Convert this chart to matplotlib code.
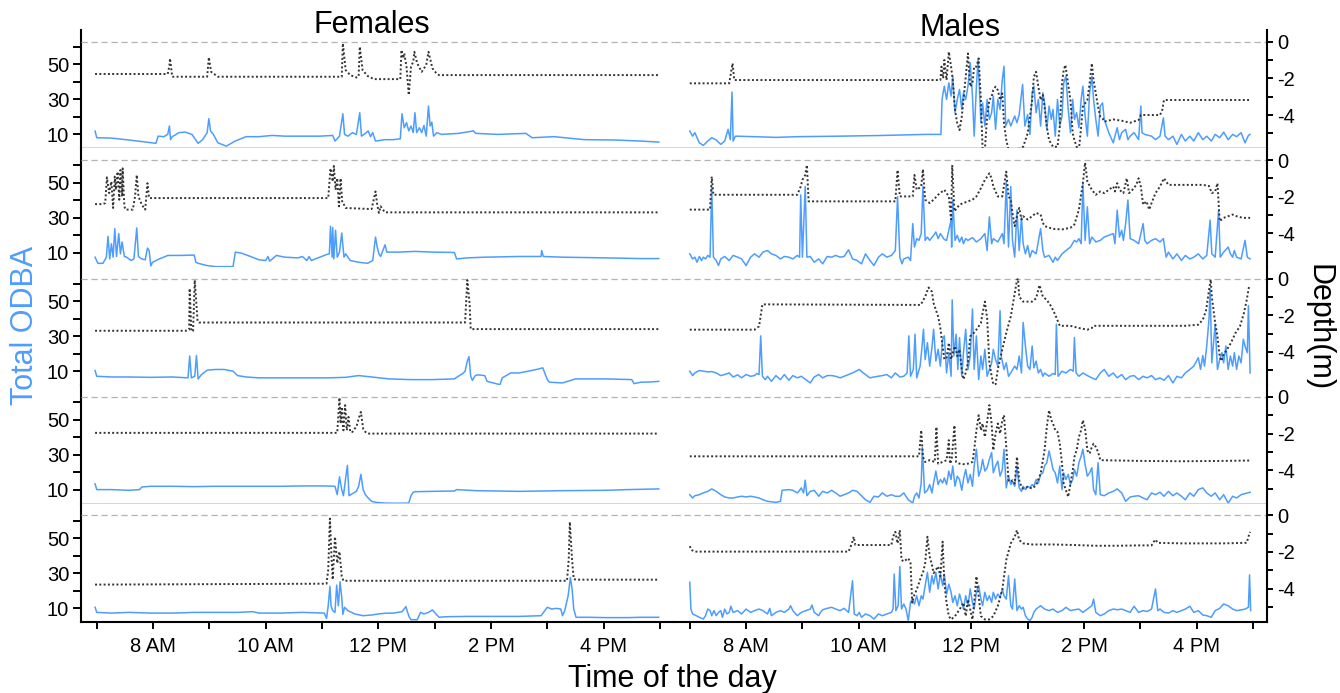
import matplotlib.pyplot as plt
from matplotlib.ticker import FixedLocator

plt.rcParams['font.family'] = ['Liberation Sans', 'DejaVu Sans']
plt.rcParams['axes.unicode_minus'] = False

BLUE = '#4d9dff'

# (time of day in hours, total ODBA) and (time, depth in m)
f1_odba = [(6.97, 11.9), (7.00, 8.1), (7.26, 7.9), (7.57, 6.8), (7.88, 5.6), (8.05, 4.9), (8.09, 9.0), (8.19, 8.7),
           (8.26, 10.0), (8.29, 14.8), (8.31, 7.0), (8.34, 8.7), (8.46, 11.0), (8.57, 11.3), (8.69, 10.0), (8.80, 4.9),
           (8.88, 7.0), (8.96, 11.0), (8.99, 19.0), (9.02, 12.0), (9.07, 10.0), (9.15, 5.2), (9.30, 3.3), (9.46, 6.2),
           (9.65, 8.7), (9.88, 8.7), (10.11, 9.4), (10.34, 9.0), (10.65, 9.0), (10.96, 9.0), (11.19, 9.4), (11.23, 6.2),
           (11.31, 9.0), (11.37, 21.8), (11.40, 10.0), (11.46, 9.0), (11.54, 11.0), (11.61, 10.0), (11.67, 22.4),
           (11.70, 9.0), (11.77, 10.6), (11.82, 12.0), (11.86, 8.7), (11.90, 11.0), (11.95, 6.2), (12.12, 7.0),
           (12.27, 7.0), (12.39, 7.5), (12.42, 21.8), (12.46, 13.8), (12.50, 16.7), (12.54, 12.0), (12.58, 14.8),
           (12.62, 11.0), (12.65, 22.4), (12.68, 11.0), (12.73, 13.8), (12.77, 11.0), (12.81, 15.1), (12.85, 9.0),
           (12.89, 26.2), (12.92, 14.8), (12.95, 17.0), (12.98, 9.0), (13.04, 11.0), (13.12, 10.0), (13.43, 10.6),
           (13.69, 12.0), (13.73, 10.6), (14.12, 10.0), (14.62, 10.6), (14.73, 8.1), (15.12, 8.7), (15.66, 7.0),
           (16.20, 6.8), (16.66, 6.2), (16.98, 5.6)]
f1_depth = [(6.97, -1.76), (8.26, -1.76), (8.29, -1.3), (8.30, -0.91), (8.34, -1.91), (8.96, -1.91), (8.99, -0.85),
            (9.03, -1.64), (9.15, -1.91), (11.35, -1.91), (11.37, -0.09), (11.42, -1.55), (11.50, -1.82),
            (11.61, -1.95), (11.65, -1.9), (11.67, -0.27), (11.72, -1.55), (11.81, -1.87), (11.92, -2.04),
            (12.39, -2.04), (12.41, -0.45), (12.44, -0.91), (12.46, -0.64), (12.50, -1.36), (12.54, -2.91),
            (12.58, -1.36), (12.62, -1.09), (12.64, -0.55), (12.69, -1.18), (12.77, -1.64), (12.85, -1.27),
            (12.89, -0.55), (12.96, -1.45), (13.04, -1.76), (13.08, -1.82), (16.98, -1.82)]

m1_odba = [(7.00, 11.9), (7.05, 9.0), (7.09, 11.0), (7.17, 5.2), (7.24, 3.7), (7.32, 6.2), (7.39, 8.1), (7.47, 6.8),
           (7.55, 4.3), (7.62, 6.2), (7.68, 12.9), (7.72, 7.0), (7.75, 34.2), (7.77, 6.2), (7.81, 9.0), (8.15, 8.7),
           (8.53, 8.3), (8.91, 8.7), (9.67, 9.0), (10.42, 9.4), (11.18, 10.0), (11.46, 10.0), (11.48, 30.0),
           (11.52, 37.6), (11.56, 30.0), (11.60, 39.5), (11.64, 31.9), (11.67, 43.3), (11.71, 22.4), (11.75, 30.0),
           (11.79, 35.7), (11.83, 24.3), (11.86, 33.8), (11.90, 30.0), (11.94, 37.6), (11.98, 51.0), (12.02, 31.9),
           (12.05, 9.0), (12.09, 37.6), (12.12, 52.9), (12.17, 16.7), (12.20, 28.0), (12.24, 14.8), (12.28, 30.0),
           (12.32, 18.6), (12.36, 22.4), (12.39, 31.9), (12.43, 12.9), (12.47, 30.0), (12.51, 24.3), (12.55, 41.4),
           (12.58, 49.0), (12.61, 14.8), (12.66, 18.6), (12.70, 14.8), (12.77, 20.5), (12.81, 16.7), (12.85, 21.4),
           (12.91, 38.6), (12.95, 14.8), (13.00, 21.4), (13.04, 10.0), (13.08, 33.8), (13.11, 37.6), (13.15, 22.4),
           (13.19, 30.0), (13.23, 14.8), (13.27, 33.8), (13.30, 28.0), (13.34, 12.9), (13.38, 26.2), (13.42, 18.6),
           (13.45, 24.3), (13.49, 9.0), (13.53, 30.0), (13.57, 14.8), (13.61, 20.5), (13.64, 39.5), (13.68, 43.3),
           (13.72, 24.3), (13.76, 11.0), (13.80, 30.0), (13.83, 18.6), (13.87, 22.4), (13.91, 13.8), (13.95, 30.0),
           (13.98, 37.6), (14.02, 20.5), (14.06, 9.0), (14.10, 33.8), (14.14, 43.3), (14.17, 30.0), (14.21, 18.6),
           (14.25, 9.0), (14.29, 26.2), (14.33, 28.0), (14.36, 18.6), (14.40, 14.8), (14.44, 11.0), (14.52, 5.2),
           (14.55, 9.0), (14.59, 13.8), (14.63, 7.0), (14.67, 11.0), (14.74, 12.9), (14.78, 7.0), (14.82, 9.0),
           (14.89, 11.0), (14.97, 7.0), (15.01, 26.2), (15.03, 11.0), (15.08, 10.0), (15.20, 9.0), (15.27, 7.0),
           (15.35, 9.0), (15.41, 19.5), (15.44, 9.0), (15.50, 7.0), (15.58, 9.0), (15.65, 4.3), (15.73, 10.0),
           (15.80, 6.2), (15.88, 9.0), (15.95, 6.2), (16.03, 11.0), (16.11, 7.0), (16.18, 9.0), (16.26, 6.2),
           (16.33, 10.0), (16.41, 8.1), (16.48, 11.3), (16.56, 7.0), (16.64, 10.0), (16.71, 8.7), (16.79, 11.0),
           (16.86, 5.2), (16.92, 9.4), (16.95, 10.0)]
m1_depth = [(7.00, -2.27), (7.70, -2.27), (7.73, -1.73), (7.76, -1.18), (7.79, -2.09), (11.45, -2.09), (11.47, -1.36),
            (11.50, -2.0), (11.52, -1.0), (11.56, -2.09), (11.60, -0.55), (11.64, -1.36), (11.67, -2.09),
            (11.71, -3.73), (11.75, -4.45), (11.79, -4.82), (11.83, -4.09), (11.86, -3.18), (11.90, -1.91),
            (11.94, -0.64), (11.98, -2.45), (12.02, -2.27), (12.05, -1.36), (12.09, -1.36), (12.13, -0.91),
            (12.17, -3.18), (12.20, -5.9), (12.24, -5.9), (12.28, -4.09), (12.32, -3.18), (12.36, -3.0),
            (12.39, -2.64), (12.43, -2.45), (12.47, -2.64), (12.51, -3.18), (12.55, -2.82), (12.58, -4.45),
            (12.62, -5.36), (12.66, -5.9), (12.81, -5.9), (12.92, -5.73), (13.00, -5.0), (13.04, -4.09),
            (13.08, -3.18), (13.11, -1.91), (13.15, -1.64), (13.19, -2.45), (13.23, -3.18), (13.27, -2.91),
            (13.30, -3.55), (13.34, -4.64), (13.38, -5.36), (13.45, -5.73), (13.53, -5.73), (13.57, -4.64),
            (13.61, -2.27), (13.64, -1.55), (13.67, -1.27), (13.70, -1.91), (13.76, -3.18), (13.80, -5.0),
            (13.83, -5.36), (13.87, -5.73), (13.91, -5.9), (13.95, -4.64), (13.98, -3.55), (14.02, -3.36),
            (14.06, -3.18), (14.10, -2.27), (14.14, -1.18), (14.17, -2.09), (14.21, -2.82), (14.25, -3.55),
            (14.29, -4.09), (14.33, -4.18), (14.36, -4.36), (14.52, -4.24), (14.67, -4.31), (14.82, -4.42),
            (14.97, -4.27), (15.01, -4.0), (15.35, -4.0), (15.39, -3.73), (15.42, -3.18), (16.95, -3.18)]

f2_odba = [(6.97, 7.5), (7.02, 4.0), (7.11, 4.0), (7.17, 7.5), (7.20, 19.4), (7.23, 6.5), (7.26, 15.2), (7.29, 7.5),
           (7.32, 23.8), (7.35, 7.9), (7.39, 21.0), (7.42, 9.4), (7.45, 16.2), (7.49, 7.9), (7.53, 7.5), (7.61, 5.6),
           (7.66, 6.5), (7.71, 24.2), (7.74, 7.9), (7.80, 6.5), (7.86, 6.0), (7.90, 12.7), (7.93, 11.3), (7.96, 2.5),
           (7.99, 4.6), (8.11, 6.5), (8.22, 7.9), (8.26, 8.5), (8.49, 8.5), (8.73, 8.7), (8.76, 4.6), (8.80, 4.0),
           (8.96, 2.7), (9.11, 2.1), (9.42, 2.1), (9.46, 10.4), (9.57, 9.8), (9.73, 7.9), (9.88, 6.0), (10.00, 5.6),
           (10.04, 7.9), (10.07, 5.2), (10.19, 8.5), (10.34, 7.5), (10.57, 7.1), (10.65, 7.9), (10.73, 5.6),
           (10.77, 7.9), (10.81, 5.6), (10.96, 7.5), (11.08, 9.0), (11.13, 9.4), (11.15, 25.2), (11.18, 7.5),
           (11.19, 24.4), (11.21, 6.5), (11.24, 22.9), (11.27, 7.5), (11.31, 10.4), (11.35, 21.3), (11.39, 7.5),
           (11.42, 9.4), (11.50, 5.6), (11.65, 4.6), (11.81, 4.0), (11.90, 5.6), (11.95, 19.0), (11.98, 13.3),
           (12.01, 9.4), (12.04, 7.9), (12.08, 11.3), (12.12, 14.6), (12.15, 10.4), (12.35, 10.4), (12.65, 10.8),
           (12.96, 10.4), (13.35, 10.2), (13.39, 6.5), (13.58, 7.1), (13.89, 7.5), (14.50, 7.9), (14.89, 7.9),
           (14.90, 11.3), (14.93, 7.9), (15.27, 7.5), (16.04, 7.1), (16.66, 6.7), (16.98, 6.7)]
f2_depth = [(6.97, -2.40), (7.11, -2.40), (7.15, -2.34), (7.18, -0.94), (7.22, -1.80), (7.26, -1.17), (7.29, -2.61),
            (7.32, -0.90), (7.34, -1.62), (7.37, -0.63), (7.40, -2.16), (7.42, -0.54), (7.45, -1.98), (7.46, -0.45),
            (7.49, -2.52), (7.51, -2.70), (7.64, -2.70), (7.68, -1.98), (7.71, -0.81), (7.74, -1.98), (7.80, -2.43),
            (7.86, -2.70), (7.90, -1.26), (7.93, -2.07), (11.11, -2.07), (11.15, -0.45), (11.19, -1.17),
            (11.21, -0.32), (11.24, -1.62), (11.27, -0.99), (11.30, -2.52), (11.33, -0.99), (11.36, -2.34),
            (11.39, -2.43), (11.42, -2.61), (11.88, -2.67), (11.95, -1.71), (11.98, -2.43), (12.01, -2.88),
            (12.04, -2.52), (12.08, -2.70), (12.12, -2.85), (16.98, -2.85)]

m2_odba = [(7.00, 9.4), (7.05, 6.5), (7.09, 7.5), (7.13, 4.6), (7.17, 7.9), (7.21, 5.6), (7.24, 7.5), (7.28, 6.5),
           (7.32, 8.5), (7.36, 7.5), (7.39, 47.5), (7.42, 7.5), (7.47, 5.6), (7.51, 2.7), (7.55, 6.5), (7.62, 7.9),
           (7.70, 5.6), (7.77, 8.5), (7.85, 7.5), (7.92, 6.5), (8.00, 2.7), (8.08, 7.5), (8.15, 9.4), (8.23, 7.5),
           (8.30, 10.4), (8.38, 11.3), (8.45, 9.4), (8.53, 8.5), (8.61, 6.5), (8.68, 7.9), (8.76, 7.5), (8.83, 6.5),
           (8.91, 8.5), (8.95, 7.5), (8.97, 43.1), (9.00, 7.5), (9.05, 47.9), (9.08, 7.5), (9.14, 7.9), (9.21, 4.6),
           (9.29, 6.5), (9.36, 3.7), (9.44, 7.9), (9.52, 7.5), (9.59, 8.5), (9.67, 7.5), (9.74, 7.9), (9.82, 11.7),
           (9.89, 6.5), (9.97, 5.6), (10.05, 3.7), (10.12, 9.4), (10.20, 5.6), (10.27, 2.7), (10.35, 7.5),
           (10.42, 9.4), (10.50, 7.5), (10.58, 8.5), (10.65, 11.3), (10.69, 42.1), (10.73, 7.5), (10.77, 3.7),
           (10.80, 6.5), (10.88, 7.5), (10.92, 5.6), (10.96, 26.7), (10.99, 13.3), (11.03, 18.1), (11.07, 17.1),
           (11.11, 21.0), (11.14, 47.9), (11.18, 17.1), (11.22, 19.0), (11.26, 17.1), (11.33, 20.0), (11.37, 21.9),
           (11.41, 18.1), (11.45, 21.0), (11.49, 19.0), (11.52, 17.6), (11.56, 17.1), (11.60, 22.9), (11.64, 28.7),
           (11.65, 13.3), (11.67, 40.2), (11.71, 17.1), (11.75, 20.0), (11.79, 16.2), (11.83, 19.0), (11.86, 15.2),
           (11.90, 18.1), (11.94, 17.1), (12.02, 18.7), (12.09, 16.2), (12.17, 18.1), (12.24, 21.0), (12.28, 11.3),
           (12.32, 30.6), (12.36, 15.2), (12.39, 18.1), (12.47, 16.2), (12.55, 21.0), (12.58, 15.2), (12.62, 50.8),
           (12.66, 13.3), (12.70, 47.9), (12.73, 17.1), (12.77, 7.5), (12.81, 34.4), (12.85, 11.3), (12.89, 30.6),
           (12.92, 15.2), (12.96, 9.4), (13.00, 14.2), (13.04, 7.5), (13.08, 11.3), (13.15, 9.4), (13.23, 23.8),
           (13.27, 11.3), (13.30, 7.5), (13.38, 8.5), (13.45, 4.6), (13.49, 7.5), (13.53, 5.6), (13.61, 9.4),
           (13.68, 11.3), (13.76, 13.3), (13.83, 17.1), (13.87, 16.2), (13.91, 18.1), (13.95, 15.2), (13.98, 49.8),
           (14.02, 17.1), (14.06, 36.3), (14.10, 15.2), (14.14, 19.0), (14.21, 16.2), (14.29, 17.1), (14.36, 19.0),
           (14.44, 20.0), (14.52, 21.0), (14.55, 15.2), (14.59, 34.4), (14.63, 19.0), (14.67, 22.9), (14.70, 17.1),
           (14.74, 26.7), (14.78, 40.2), (14.82, 18.1), (14.89, 17.1), (14.97, 15.2), (15.05, 26.7), (15.08, 17.1),
           (15.12, 15.2), (15.20, 17.1), (15.27, 18.1), (15.35, 16.2), (15.41, 18.1), (15.44, 11.3), (15.46, 7.5),
           (15.50, 10.4), (15.58, 6.5), (15.65, 9.4), (15.73, 5.6), (15.80, 8.5), (15.88, 6.5), (15.95, 7.5),
           (16.03, 9.4), (16.11, 6.5), (16.18, 8.5), (16.24, 28.7), (16.27, 9.4), (16.33, 7.5), (16.39, 34.4),
           (16.42, 7.5), (16.48, 10.4), (16.56, 13.3), (16.60, 9.4), (16.64, 7.5), (16.67, 11.3), (16.71, 7.5),
           (16.79, 6.5), (16.86, 17.1), (16.90, 7.5), (16.95, 6.5)]
m2_depth = [(7.00, -2.70), (7.36, -2.70), (7.39, -0.90), (7.42, -1.89), (8.91, -1.89), (8.97, -1.44), (9.00, -1.08),
            (9.05, -0.81), (9.08, -0.27), (9.11, -2.25), (10.65, -2.25), (10.69, -0.54), (10.73, -1.98),
            (10.96, -1.98), (10.99, -0.81), (11.03, -1.62), (11.11, -1.44), (11.14, -0.50), (11.18, -2.16),
            (11.26, -2.34), (11.33, -2.16), (11.41, -1.89), (11.52, -1.62), (11.60, -1.98), (11.64, -3.24),
            (11.66, -0.27), (11.70, -2.79), (11.79, -2.43), (11.86, -2.34), (11.94, -2.25), (12.02, -2.16),
            (12.09, -1.98), (12.17, -1.53), (12.24, -1.08), (12.32, -0.72), (12.36, -0.99), (12.39, -1.44),
            (12.47, -1.98), (12.55, -1.98), (12.62, -0.63), (12.66, -1.98), (12.70, -2.16), (12.73, -2.88),
            (12.77, -3.60), (12.81, -3.06), (12.85, -2.61), (12.89, -3.24), (12.92, -3.06), (13.00, -3.24),
            (13.08, -3.06), (13.15, -2.88), (13.23, -2.97), (13.27, -3.42), (13.30, -3.60), (13.45, -3.75),
            (13.61, -3.78), (13.76, -3.69), (13.83, -3.51), (13.91, -2.70), (13.98, -1.26), (14.02, -0.14),
            (14.06, -1.17), (14.14, -1.62), (14.21, -1.89), (14.29, -1.71), (14.36, -1.80), (14.44, -1.62),
            (14.52, -1.44), (14.55, -1.71), (14.59, -1.26), (14.63, -1.62), (14.70, -1.80), (14.76, -0.99),
            (14.80, -1.80), (14.86, -1.62), (14.93, -1.35), (14.97, -0.99), (15.01, -1.44), (15.05, -2.43),
            (15.11, -2.25), (15.16, -2.70), (15.20, -2.34), (15.27, -1.80), (15.35, -1.44), (15.42, -0.99),
            (15.50, -1.35), (15.73, -1.35), (16.11, -1.35), (16.22, -1.41), (16.27, -1.80), (16.33, -1.71),
            (16.37, -1.26), (16.41, -3.33), (16.48, -3.15), (16.56, -3.06), (16.64, -2.97), (16.71, -3.06),
            (16.82, -3.15), (16.95, -3.15)]

f3_odba = [(6.97, 10.4), (7.00, 7.1), (7.26, 6.7), (7.57, 6.7), (7.96, 6.5), (8.34, 6.7), (8.62, 6.2), (8.65, 18.7),
           (8.68, 6.2), (8.74, 7.1), (8.77, 19.0), (8.80, 5.6), (8.86, 8.1), (8.96, 10.6), (9.11, 11.0), (9.26, 11.0),
           (9.42, 10.0), (9.50, 7.5), (9.65, 6.7), (9.88, 6.2), (10.27, 6.2), (10.65, 6.2), (11.11, 6.2), (11.42, 6.5),
           (11.65, 7.5), (11.88, 6.7), (12.19, 5.6), (12.58, 5.2), (12.96, 5.2), (13.35, 5.6), (13.44, 7.5),
           (13.50, 8.7), (13.54, 10.0), (13.58, 15.8), (13.61, 18.3), (13.64, 7.1), (13.67, 4.8), (13.72, 7.5),
           (13.77, 7.9), (13.89, 7.5), (13.93, 4.2), (14.04, 3.3), (14.16, 2.3), (14.20, 6.2), (14.27, 7.5),
           (14.35, 9.0), (14.50, 9.0), (14.66, 10.0), (14.81, 11.0), (14.92, 11.9), (15.00, 5.2), (15.04, 3.7),
           (15.27, 3.3), (15.50, 5.6), (16.04, 5.6), (16.50, 5.2), (16.54, 2.9), (16.66, 3.7), (16.81, 3.8),
           (16.98, 4.2)]
f3_depth = [(6.97, -2.85), (8.58, -2.85), (8.64, -2.79), (8.65, -0.54), (8.68, -2.88), (8.71, -2.85), (8.74, -0.09),
            (8.79, -2.34), (8.82, -2.40), (13.54, -2.40), (13.58, -0.09), (13.62, -1.35), (13.64, -2.76),
            (16.98, -2.76)]

m3_odba = [(7.00, 10.0), (7.05, 7.5), (7.09, 9.0), (7.17, 10.4), (7.24, 10.0), (7.32, 9.6), (7.39, 9.8), (7.47, 9.0),
           (7.55, 7.5), (7.62, 8.1), (7.70, 9.0), (7.77, 6.7), (7.85, 7.9), (7.92, 6.2), (8.00, 8.1), (8.08, 7.1),
           (8.15, 7.5), (8.19, 8.7), (8.23, 8.1), (8.26, 30.2), (8.29, 7.1), (8.34, 5.2), (8.38, 7.1), (8.45, 4.2),
           (8.53, 7.5), (8.61, 5.2), (8.68, 8.1), (8.76, 4.8), (8.83, 7.5), (8.91, 6.2), (8.98, 7.1), (9.06, 5.2),
           (9.14, 3.3), (9.21, 6.7), (9.29, 8.1), (9.36, 6.2), (9.44, 7.5), (9.52, 7.5), (9.59, 7.1), (9.67, 6.2),
           (9.74, 7.1), (9.82, 8.1), (9.89, 9.0), (10.01, 11.0), (10.08, 9.0), (10.20, 6.2), (10.27, 6.7),
           (10.35, 7.1), (10.42, 7.5), (10.50, 8.1), (10.58, 6.2), (10.65, 9.0), (10.73, 6.7), (10.80, 7.1),
           (10.86, 9.0), (10.89, 30.2), (10.92, 7.1), (10.97, 11.0), (11.00, 31.2), (11.03, 6.2), (11.09, 12.9),
           (11.12, 22.5), (11.15, 34.0), (11.18, 16.7), (11.22, 26.3), (11.26, 12.9), (11.30, 23.5), (11.33, 34.0),
           (11.37, 15.8), (11.41, 22.5), (11.45, 12.9), (11.49, 28.3), (11.52, 30.2), (11.56, 9.0), (11.60, 20.6),
           (11.64, 7.1), (11.66, 50.8), (11.69, 18.7), (11.73, 31.2), (11.76, 11.0), (11.79, 29.2), (11.83, 7.1),
           (11.86, 20.6), (11.90, 34.0), (11.94, 11.0), (11.98, 18.7), (12.02, 45.6), (12.05, 11.0), (12.09, 30.2),
           (12.13, 5.2), (12.17, 18.7), (12.20, 11.0), (12.24, 22.5), (12.28, 7.1), (12.32, 11.0), (12.36, 14.8),
           (12.39, 22.5), (12.43, 16.7), (12.47, 12.9), (12.51, 44.6), (12.53, 18.7), (12.58, 11.0), (12.62, 14.8),
           (12.66, 7.1), (12.70, 9.0), (12.77, 12.9), (12.81, 11.0), (12.85, 18.7), (12.89, 9.0), (12.92, 37.9),
           (12.96, 24.4), (13.00, 12.9), (13.04, 11.0), (13.08, 24.4), (13.11, 11.9), (13.15, 15.8), (13.19, 9.0),
           (13.23, 11.0), (13.27, 7.1), (13.30, 9.0), (13.38, 7.1), (13.45, 8.7), (13.49, 8.1), (13.51, 36.9),
           (13.54, 7.1), (13.61, 10.0), (13.68, 9.0), (13.76, 11.0), (13.81, 10.0), (13.83, 29.2), (13.86, 9.0),
           (13.91, 7.1), (13.98, 9.0), (14.06, 7.5), (14.14, 6.2), (14.21, 5.2), (14.29, 9.0), (14.36, 11.0),
           (14.44, 7.1), (14.52, 9.0), (14.59, 6.2), (14.67, 8.1), (14.74, 5.2), (14.82, 7.1), (14.89, 7.5),
           (14.97, 5.2), (15.05, 7.1), (15.12, 6.2), (15.20, 7.5), (15.27, 5.2), (15.35, 6.2), (15.42, 4.8),
           (15.50, 7.5), (15.58, 3.3), (15.65, 7.1), (15.73, 6.2), (15.80, 9.0), (15.88, 11.0), (15.95, 12.9),
           (16.03, 17.7), (16.07, 11.0), (16.11, 19.0), (16.14, 12.9), (16.18, 24.4), (16.22, 39.8), (16.24, 57.1),
           (16.27, 14.8), (16.33, 36.9), (16.37, 11.0), (16.41, 16.7), (16.45, 20.6), (16.48, 14.8), (16.52, 24.4),
           (16.56, 11.0), (16.60, 18.7), (16.64, 12.9), (16.67, 20.6), (16.71, 11.0), (16.75, 18.7), (16.79, 14.8),
           (16.83, 28.3), (16.86, 24.4), (16.90, 20.6), (16.92, 47.5), (16.95, 9.0)]
m3_depth = [(7.00, -2.79), (8.15, -2.79), (8.23, -2.61), (8.29, -1.41), (11.10, -1.44), (11.18, -0.99), (11.24, -0.49),
            (11.30, -0.72), (11.33, -1.35), (11.41, -2.07), (11.45, -2.70), (11.49, -3.69), (11.52, -4.41),
            (11.56, -4.32), (11.60, -3.51), (11.64, -4.41), (11.67, -4.05), (11.71, -3.69), (11.75, -4.23),
            (11.79, -3.87), (11.83, -4.95), (11.86, -5.50), (11.90, -5.14), (11.94, -4.59), (11.98, -3.15),
            (12.02, -3.06), (12.09, -2.79), (12.17, -2.43), (12.20, -1.89), (12.24, -1.26), (12.28, -2.16),
            (12.32, -4.59), (12.36, -5.32), (12.39, -5.77), (12.43, -5.77), (12.47, -4.95), (12.55, -3.87),
            (12.62, -2.97), (12.70, -2.07), (12.77, -0.81), (12.81, -0.09), (12.83, 0.0), (12.85, -0.99),
            (12.92, -1.26), (13.00, -1.26), (13.08, -1.26), (13.15, -1.08), (13.21, -0.36), (13.27, -0.99),
            (13.34, -1.17), (13.42, -1.53), (13.49, -1.98), (13.57, -2.58), (13.76, -2.58), (13.91, -2.70),
            (14.06, -2.79), (14.14, -2.70), (14.17, -2.58), (15.80, -2.58), (16.03, -2.52), (16.11, -2.25),
            (16.17, -1.71), (16.22, -0.63), (16.25, -0.05), (16.27, -0.99), (16.33, -2.43), (16.37, -3.15),
            (16.41, -4.23), (16.44, -4.50), (16.48, -4.14), (16.54, -3.87), (16.61, -3.51), (16.69, -2.97),
            (16.77, -2.61), (16.84, -1.89), (16.89, -1.17), (16.93, -0.45), (16.95, -0.36)]

f4_odba = [(6.97, 13.3), (7.00, 10.0), (7.26, 10.0), (7.57, 9.6), (7.76, 10.0), (7.80, 11.5), (7.96, 11.9),
           (8.34, 11.9), (8.73, 11.7), (9.11, 11.9), (9.50, 11.9), (9.88, 11.9), (10.27, 11.9), (10.65, 12.1),
           (11.04, 12.1), (11.23, 11.9), (11.27, 7.1), (11.31, 17.3), (11.35, 10.0), (11.38, 6.5), (11.42, 16.7),
           (11.45, 23.8), (11.48, 6.5), (11.54, 7.7), (11.61, 9.0), (11.65, 11.9), (11.69, 18.7), (11.73, 10.0),
           (11.77, 7.1), (11.82, 5.2), (11.88, 3.3), (11.96, 2.7), (12.12, 2.3), (12.35, 2.2), (12.54, 2.3),
           (12.58, 6.5), (12.62, 8.5), (12.65, 8.8), (12.96, 9.0), (13.35, 9.2), (13.39, 10.0), (13.73, 9.4),
           (14.50, 9.0), (15.27, 9.4), (16.04, 9.6), (16.43, 10.0), (16.98, 10.4)]
f4_depth = [(6.97, -1.96), (11.27, -1.96), (11.31, -0.04), (11.33, -1.45), (11.35, -0.55), (11.38, -1.82),
            (11.41, -0.45), (11.44, -1.82), (11.47, -1.09), (11.50, -1.91), (11.54, -1.91), (11.58, -1.73),
            (11.61, -1.64), (11.65, -1.18), (11.69, -0.82), (11.73, -1.73), (11.77, -1.91), (11.81, -2.0),
            (16.98, -2.0)]

m4_odba = [(7.00, 7.1), (7.05, 5.2), (7.09, 6.5), (7.17, 7.1), (7.24, 8.1), (7.32, 9.0), (7.39, 10.4), (7.47, 9.0),
           (7.55, 7.1), (7.62, 5.8), (7.70, 5.2), (7.77, 5.2), (7.85, 5.8), (7.92, 6.2), (8.00, 5.8), (8.08, 6.2),
           (8.15, 5.8), (8.23, 5.2), (8.30, 4.2), (8.38, 3.3), (8.53, 2.7), (8.61, 3.3), (8.64, 9.6), (8.76, 10.0),
           (8.83, 9.6), (8.91, 8.1), (8.95, 9.6), (8.98, 11.0), (9.02, 8.1), (9.05, 15.4), (9.08, 6.5), (9.14, 9.0),
           (9.21, 9.6), (9.29, 6.2), (9.36, 9.0), (9.44, 8.1), (9.52, 9.6), (9.59, 8.1), (9.67, 6.2), (9.74, 7.1),
           (9.82, 8.1), (9.89, 9.6), (9.97, 9.0), (10.05, 6.5), (10.12, 4.2), (10.20, 2.7), (10.27, 6.2),
           (10.35, 5.8), (10.42, 8.1), (10.50, 6.2), (10.58, 7.1), (10.65, 6.2), (10.73, 6.2), (10.80, 8.1),
           (10.88, 4.2), (10.96, 2.3), (10.99, 6.2), (11.03, 8.1), (11.07, 5.2), (11.11, 13.8), (11.13, 34.0),
           (11.17, 8.1), (11.22, 9.6), (11.26, 12.9), (11.30, 8.1), (11.33, 13.8), (11.37, 20.6), (11.41, 12.9),
           (11.45, 15.8), (11.49, 13.8), (11.52, 16.7), (11.56, 12.9), (11.60, 20.6), (11.64, 15.8), (11.67, 23.5),
           (11.71, 11.9), (11.75, 17.7), (11.79, 15.8), (11.83, 9.6), (11.86, 15.8), (11.90, 21.5), (11.94, 13.8),
           (11.98, 18.7), (12.02, 11.9), (12.05, 23.5), (12.09, 33.1), (12.13, 17.7), (12.17, 21.5), (12.20, 27.3),
           (12.24, 20.6), (12.28, 22.5), (12.32, 27.3), (12.36, 31.2), (12.39, 19.6), (12.43, 23.5), (12.47, 26.3),
           (12.51, 17.7), (12.55, 21.5), (12.58, 33.1), (12.62, 11.0), (12.66, 17.7), (12.70, 12.9), (12.73, 14.8),
           (12.77, 11.9), (12.81, 23.5), (12.85, 11.0), (12.89, 9.0), (12.92, 11.9), (12.96, 10.0), (13.00, 11.9),
           (13.04, 11.0), (13.08, 12.9), (13.11, 11.9), (13.15, 15.8), (13.19, 13.8), (13.23, 18.7), (13.27, 19.6),
           (13.30, 23.5), (13.34, 25.4), (13.38, 32.1), (13.42, 26.3), (13.45, 21.5), (13.49, 19.6), (13.53, 13.8),
           (13.57, 23.5), (13.61, 10.0), (13.64, 19.6), (13.68, 15.8), (13.72, 18.7), (13.76, 12.9), (13.80, 15.8),
           (13.83, 21.5), (13.87, 17.7), (13.91, 25.4), (13.95, 29.2), (13.98, 33.1), (14.02, 24.4), (14.06, 17.7),
           (14.10, 19.6), (14.14, 22.5), (14.17, 10.0), (14.21, 7.1), (14.25, 25.4), (14.29, 7.1), (14.36, 6.5),
           (14.44, 8.1), (14.52, 9.0), (14.59, 10.4), (14.67, 8.1), (14.74, 3.3), (14.82, 5.8), (14.89, 6.2),
           (14.97, 6.5), (15.05, 5.2), (15.12, 4.2), (15.20, 8.1), (15.27, 7.1), (15.35, 8.5), (15.42, 6.2),
           (15.50, 9.0), (15.58, 6.5), (15.65, 8.1), (15.73, 6.2), (15.80, 4.2), (15.88, 8.1), (15.95, 6.2),
           (16.03, 10.0), (16.11, 11.0), (16.18, 8.1), (16.26, 6.2), (16.33, 8.1), (16.41, 4.2), (16.48, 7.1),
           (16.56, 2.3), (16.64, 6.2), (16.71, 5.2), (16.79, 7.1), (16.86, 7.7), (16.95, 8.5)]
m4_depth = [(7.00, -3.24), (11.07, -3.24), (11.11, -1.82), (11.14, -3.27), (11.18, -3.55), (11.26, -3.45),
            (11.35, -3.55), (11.38, -1.64), (11.41, -3.64), (11.49, -3.55), (11.56, -3.45), (11.60, -2.36),
            (11.62, -3.64), (11.65, -3.45), (11.70, -1.55), (11.73, -3.55), (11.79, -3.64), (11.86, -3.67),
            (11.94, -3.64), (12.02, -3.55), (12.05, -2.91), (12.09, -1.82), (12.13, -1.00), (12.17, -1.82),
            (12.20, -1.45), (12.24, -2.18), (12.28, -1.36), (12.32, -0.45), (12.36, -1.45), (12.39, -2.91),
            (12.43, -2.00), (12.47, -1.45), (12.51, -2.00), (12.55, -1.27), (12.58, -1.00), (12.62, -2.73),
            (12.66, -4.55), (12.70, -4.64), (12.73, -4.55), (12.77, -4.73), (12.81, -3.27), (12.85, -4.55),
            (12.89, -4.91), (12.92, -5.00), (13.00, -4.91), (13.08, -5.00), (13.15, -4.82), (13.23, -4.18),
            (13.30, -2.91), (13.34, -1.64), (13.38, -0.73), (13.42, -1.27), (13.45, -1.45), (13.49, -1.82),
            (13.53, -1.91), (13.57, -2.55), (13.61, -3.64), (13.64, -4.73), (13.68, -5.09), (13.72, -5.45),
            (13.76, -4.73), (13.80, -4.00), (13.83, -3.27), (13.87, -2.91), (13.91, -2.18), (13.95, -1.82),
            (13.98, -1.27), (14.02, -1.73), (14.06, -2.91), (14.10, -3.09), (14.14, -2.73), (14.17, -2.55),
            (14.21, -2.73), (14.25, -3.00), (14.29, -3.45), (14.97, -3.49), (15.73, -3.51), (16.48, -3.49),
            (16.95, -3.47)]

f5_odba = [(6.97, 10.4), (7.00, 7.5), (7.26, 7.1), (7.57, 7.5), (7.96, 7.1), (8.34, 7.1), (8.73, 7.5), (9.11, 7.5),
           (9.50, 7.5), (9.77, 7.9), (9.88, 7.1), (10.27, 7.1), (10.65, 7.5), (11.04, 7.1), (11.08, 4.1), (11.11, 11.3),
           (11.14, 22.4), (11.16, 11.3), (11.19, 8.5), (11.23, 7.5), (11.26, 23.1), (11.29, 11.3), (11.32, 25.0),
           (11.35, 16.1), (11.37, 6.4), (11.40, 10.4), (11.46, 8.5), (11.58, 6.6), (11.73, 5.6), (11.88, 6.0),
           (12.00, 6.6), (12.12, 7.0), (12.27, 7.1), (12.42, 7.9), (12.49, 10.8), (12.52, 7.5), (12.55, 4.7),
           (12.58, 3.3), (12.69, 3.3), (12.75, 7.5), (12.81, 6.6), (12.89, 7.5), (12.96, 8.9), (13.04, 6.0),
           (13.08, 4.7), (13.19, 5.0), (13.58, 5.2), (14.12, 5.2), (14.50, 5.2), (14.89, 5.6), (15.00, 10.4),
           (15.08, 9.4), (15.16, 9.8), (15.24, 9.4), (15.27, 5.6), (15.31, 8.5), (15.37, 17.0), (15.41, 27.5),
           (15.44, 20.9), (15.47, 9.4), (15.51, 4.7), (15.74, 4.7), (16.04, 4.5), (16.43, 4.5), (16.66, 4.7),
           (16.98, 4.7)]
f5_depth = [(6.97, -3.78), (11.08, -3.73), (11.11, -2.97), (11.14, -0.18), (11.17, -2.43), (11.19, -3.51),
            (11.23, -1.17), (11.27, -2.61), (11.31, -1.98), (11.35, -3.33), (11.38, -3.57), (15.35, -3.57),
            (15.38, -2.43), (15.40, -0.36), (15.44, -2.43), (15.47, -3.48), (15.51, -3.51), (16.98, -3.51)]

m5_odba = [(7.00, 24.7), (7.02, 9.4), (7.05, 6.6), (7.09, 6.0), (7.17, 4.7), (7.24, 3.7), (7.28, 5.6), (7.32, 9.4),
           (7.36, 8.5), (7.39, 5.6), (7.43, 8.5), (7.47, 5.6), (7.51, 7.5), (7.55, 8.5), (7.58, 4.7), (7.62, 9.4),
           (7.66, 6.6), (7.70, 7.5), (7.73, 11.0), (7.77, 7.5), (7.85, 8.5), (7.92, 6.6), (8.00, 9.4), (8.08, 7.5),
           (8.15, 8.5), (8.23, 9.4), (8.30, 8.5), (8.38, 6.6), (8.42, 9.8), (8.45, 5.6), (8.53, 7.5), (8.61, 8.5),
           (8.68, 7.5), (8.76, 9.4), (8.79, 11.3), (8.83, 8.5), (8.91, 5.6), (8.98, 7.5), (9.06, 8.5), (9.14, 9.4),
           (9.17, 11.7), (9.21, 7.5), (9.29, 5.6), (9.32, 7.5), (9.36, 9.0), (9.44, 9.8), (9.52, 10.4), (9.59, 9.4),
           (9.67, 8.5), (9.74, 9.8), (9.82, 7.5), (9.89, 25.6), (9.92, 6.6), (9.97, 5.6), (10.01, 7.5), (10.05, 4.7),
           (10.12, 6.6), (10.20, 5.6), (10.27, 3.7), (10.35, 6.6), (10.42, 5.6), (10.50, 6.6), (10.58, 7.5),
           (10.61, 9.4), (10.63, 29.4), (10.66, 8.5), (10.70, 11.3), (10.73, 33.8), (10.76, 9.4), (10.80, 12.3),
           (10.84, 9.4), (10.88, 2.8), (10.92, 13.2), (10.95, 15.1), (10.99, 12.3), (11.03, 17.0), (11.07, 11.3),
           (11.11, 17.0), (11.14, 15.1), (11.18, 22.8), (11.22, 30.4), (11.26, 19.0), (11.30, 28.5), (11.33, 23.7),
           (11.37, 30.4), (11.41, 20.9), (11.45, 29.4), (11.49, 22.8), (11.52, 29.4), (11.56, 18.0), (11.60, 23.7),
           (11.64, 19.0), (11.67, 13.2), (11.71, 17.0), (11.75, 11.3), (11.79, 18.0), (11.83, 13.2), (11.86, 9.4),
           (11.90, 17.0), (11.94, 11.3), (11.98, 20.9), (12.02, 13.2), (12.05, 9.4), (12.09, 19.0), (12.13, 22.8),
           (12.17, 15.1), (12.20, 11.3), (12.24, 19.0), (12.28, 14.2), (12.32, 17.0), (12.36, 13.2), (12.39, 19.0),
           (12.43, 15.1), (12.47, 18.0), (12.51, 16.1), (12.55, 20.9), (12.58, 17.0), (12.62, 15.1), (12.66, 28.5),
           (12.70, 11.3), (12.73, 9.4), (12.77, 26.6), (12.81, 8.5), (12.85, 11.3), (12.89, 9.4), (12.92, 10.4),
           (12.96, 5.6), (13.00, 3.7), (13.04, 2.8), (13.08, 4.7), (13.11, 7.5), (13.15, 9.4), (13.23, 11.3),
           (13.30, 9.4), (13.38, 8.5), (13.45, 9.4), (13.53, 7.5), (13.61, 8.5), (13.68, 10.4), (13.76, 8.5),
           (13.83, 9.0), (13.91, 9.4), (13.98, 7.5), (14.06, 9.4), (14.14, 11.3), (14.17, 15.1), (14.21, 7.5),
           (14.29, 5.6), (14.36, 6.6), (14.44, 8.5), (14.52, 9.4), (14.59, 9.0), (14.67, 9.4), (14.74, 8.5),
           (14.82, 7.5), (14.89, 11.0), (14.97, 7.5), (15.05, 8.5), (15.12, 8.0), (15.20, 9.4), (15.27, 20.9),
           (15.31, 8.5), (15.35, 9.4), (15.42, 7.5), (15.50, 7.1), (15.58, 8.5), (15.65, 7.5), (15.73, 8.5),
           (15.80, 9.4), (15.88, 11.0), (15.95, 7.5), (16.03, 8.5), (16.11, 6.0), (16.18, 5.6), (16.26, 4.7),
           (16.33, 8.5), (16.41, 9.8), (16.48, 12.3), (16.56, 11.3), (16.64, 9.4), (16.71, 8.5), (16.79, 8.9),
           (16.86, 9.4), (16.92, 10.4), (16.94, 28.9), (16.96, 8.5)]
m5_depth = [(7.00, -1.68), (7.03, -1.89), (7.09, -1.98), (9.82, -1.98), (9.88, -1.53), (9.91, -1.17), (9.94, -1.62),
            (10.58, -1.62), (10.61, -1.17), (10.65, -0.90), (10.69, -1.53), (10.73, -0.81), (10.76, -2.43),
            (10.80, -2.52), (10.88, -2.34), (10.92, -2.61), (10.95, -4.77), (10.99, -4.32), (11.03, -4.05),
            (11.11, -3.33), (11.14, -3.15), (11.18, -2.61), (11.22, -1.17), (11.26, -2.25), (11.30, -2.70),
            (11.33, -3.15), (11.37, -2.97), (11.41, -2.79), (11.45, -3.33), (11.49, -1.44), (11.52, -3.69),
            (11.56, -4.77), (11.60, -5.50), (11.64, -5.68), (11.71, -5.50), (11.79, -5.14), (11.86, -4.77),
            (11.90, -5.50), (11.94, -4.59), (11.98, -5.14), (12.02, -5.68), (12.05, -4.77), (12.09, -3.33),
            (12.13, -4.41), (12.17, -5.50), (12.24, -5.68), (12.32, -5.68), (12.39, -5.50), (12.47, -4.95),
            (12.55, -4.05), (12.62, -2.43), (12.70, -1.53), (12.77, -1.17), (12.81, -0.81), (12.85, -1.35),
            (12.92, -1.53), (13.08, -1.59), (13.45, -1.59), (13.83, -1.62), (14.21, -1.66), (14.59, -1.66),
            (14.97, -1.64), (15.20, -1.64), (15.24, -1.44), (15.27, -1.32), (15.31, -1.50), (15.73, -1.53),
            (16.48, -1.53), (16.89, -1.50), (16.92, -1.17), (16.95, -0.90)]

females = [(f1_odba, f1_depth), (f2_odba, f2_depth), (f3_odba, f3_depth), (f4_odba, f4_depth), (f5_odba, f5_depth)]
males = [(m1_odba, m1_depth), (m2_odba, m2_depth), (m3_odba, m3_depth), (m4_odba, m4_depth), (m5_odba, m5_depth)]

hour_ticks = [8, 10, 12, 14, 16]
hour_labels = ['8 AM', '10 AM', '12 PM', '2 PM', '4 PM']

fig = plt.figure(figsize=(13.4, 6.93), dpi=100)
W, H = 1340.0, 693.0
col_x = [81 / W, 674 / W]
col_w = 593 / W
row_h = 118.4 / H

for r in range(5):
    bottom = 1 - (30 + 118.4 * (r + 1)) / H
    for c, group in enumerate([females, males]):
        odba, depth = group[r]
        ax = fig.add_axes([col_x[c], bottom, col_w, row_h])
        t, v = zip(*odba)
        ax.plot(t, v, color=BLUE, lw=1.1, zorder=2)
        ax.set_xlim(6.72, 17.25)
        ax.set_ylim(2, 69.7)

        ax2 = ax.twinx()
        td, d = zip(*depth)
        ax2.plot(td, d, color='#333333', lw=1.4, ls=(0, (1, 1.2)), zorder=3)
        ax2.axhline(0, color='#b3b3b3', lw=0.9, ls=(0, (5, 3)))
        ax2.set_ylim(-5.82, 0.64)

        for s in ['top', 'left', 'right', 'bottom']:
            ax2.spines[s].set_visible(False)
        ax.spines['top'].set_visible(False)
        ax.spines['right'].set_visible(False)

        # left column carries the ODBA axis, right column the depth axis
        if c == 0:
            ax.spines['left'].set_linewidth(1.5)
            ax.yaxis.set_major_locator(FixedLocator([10, 30, 50]))
            ax.yaxis.set_minor_locator(FixedLocator([20, 40, 60]))
            ax.tick_params(axis='y', which='both', length=5.5, width=1.4, pad=3, labelsize=14.5)
            ax2.set_yticks([])
        else:
            ax.spines['left'].set_visible(False)
            ax.set_yticks([])
            ax2.spines['right'].set_visible(True)
            ax2.spines['right'].set_linewidth(1.5)
            ax2.yaxis.set_major_locator(FixedLocator([0, -2, -4]))
            ax2.yaxis.set_minor_locator(FixedLocator([-1, -3, -5]))
            ax2.set_yticklabels(['0', '-2', '-4'])
            ax2.tick_params(axis='y', which='both', length=4.5, width=1.4, pad=3, labelsize=14.5)

        if r == 4:
            ax.spines['bottom'].set_linewidth(1.5)
            ax.xaxis.set_major_locator(FixedLocator(hour_ticks))
            ax.xaxis.set_minor_locator(FixedLocator([7, 9, 11, 13, 15, 17]))
            ax.set_xticklabels(hour_labels)
            ax.tick_params(axis='x', which='both', length=5, width=1.4, pad=6, labelsize=14.5)
        else:
            ax.xaxis.set_major_locator(FixedLocator([]))
            ax.xaxis.set_minor_locator(FixedLocator([]))
            if r in (0, 3):
                ax.spines['bottom'].set_color('#cfcfcf')
                ax.spines['bottom'].set_linewidth(1.2)
            else:
                ax.spines['bottom'].set_visible(False)

fig.text(372 / W, 1 - 25 / H, 'Females', ha='center', va='center', fontsize=22)
fig.text(960 / W, 1 - 28 / H, 'Males', ha='center', va='center', fontsize=22)
fig.text(25 / W, 1 - 325 / H, 'Total ODBA', ha='center', va='center', rotation=90, fontsize=22, color=BLUE)
fig.text(1318 / W, 1 - 328 / H, 'Depth(m)', ha='center', va='center', rotation=270, fontsize=22)
fig.text(672 / W, 1 - 679 / H, 'Time of the day', ha='center', va='center', fontsize=22)

fig.savefig('out.png', dpi=100)
